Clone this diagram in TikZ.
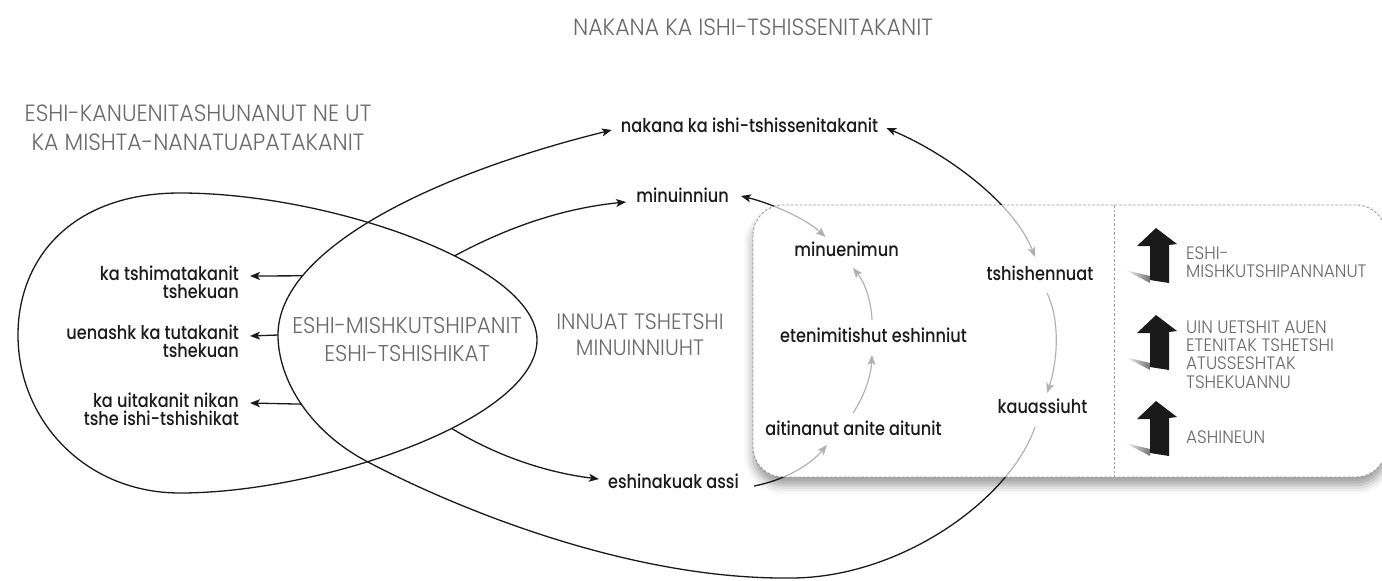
\documentclass[tikz,border=0pt]{standalone}
\usepackage{fontspec}
\setmainfont{Poppins}
\IfFontExistsTF{Poppins Light}{\newfontfamily\thinf{Poppins Light}[FakeStretch=0.94]}{\newfontfamily\thinf{Poppins}[FakeStretch=0.94]}
\IfFontExistsTF{Poppins Medium}{\newfontfamily\labf{Poppins Medium}[FakeStretch=0.85]}{\newfontfamily\labf{Poppins}[FakeStretch=0.88]}
\usetikzlibrary{arrows.meta,shadows.blur}
\definecolor{ink}{HTML}{1A1A1A}
\definecolor{gline}{HTML}{B0B0B0}
\definecolor{gtext}{HTML}{6A6A6A}
\definecolor{gdash}{HTML}{9A9A9A}
\tikzset{
  lbl/.style={font=\labf\fontsize{19}{17.7}\selectfont, text=ink, inner sep=0pt},
  captxt/.style={font=\thinf\fontsize{#1}{#1}\selectfont, text=gtext, inner sep=0pt, align=center},
  conn/.style={draw=ink, line width=1.3pt},
  gconn/.style={draw=gline, line width=1.15pt},
  boxline/.style={draw=gdash, line width=0.9pt, dash pattern=on 2.5pt off 2pt},
  panelarrow/.style={fill=ink},
}
\newcommand\crossconns{%
  \draw[cn,->] ([shift={(-7.5,14)}]kau.base) .. controls (1010,500) and (900,578) .. (lb)
     .. controls (620,580) and (440,500) .. (lm)
     .. controls (310,432) and (278,380) .. coordinate[pos=0.5] (e3) (ll)
     .. controls (278,250) and (430,175) .. coordinate[pos=0.24] (e1) ([shift={(-9,-2)}]nak.base west);
  \draw[cn,<->] ([shift={(8,-4)}]nak.base east) .. controls (950,155) and (1015,205) .. ([shift={(-5,-23)}]tsh.base);
  \draw[cn,<->] ([shift={(12,-6)}]minn.base east) .. controls (770,203) and (805,218) .. ([shift={(-21,-19)}]mue.base);
  \draw[cn,->] ([shift={(15,-2)}]esh.base east) .. controls (785,480) and (810,465) .. ([shift={(-26.5,10)}]ait.base);
}
\begin{document}
\begin{tikzpicture}[x=1pt,y=-1pt,>={Stealth[length=10pt,width=8pt,inset=2.5pt]}]
\useasboundingbox (0,0) rectangle (1382,581);

% dashed panel with shadow
\draw[boxline, fill=white, rounded corners=30pt,
  blur shadow={shadow xshift=0pt, shadow yshift=-8pt, shadow blur radius=9pt, shadow opacity=40}]
  (753,205) rectangle (1386,477);
\draw[boxline] (1114,205) -- (1114,477);

% titles
\node[captxt=23.5] (title) at (753,27) {NAKANA KA ISHI-TSHISSENITAKANIT};
\node[captxt=23.5, font=\thinf\fontsize{23.5}{29}\selectfont] (ltitle) at (198,128) {ESHI-KANUENITASHUNANUT NE UT\\KA MISHTA-NANATUAPATAKANIT};
\node[captxt=22.8, font=\thinf\fontsize{22.8}{28}\selectfont] (core) at (407,340) {ESHI-MISHKUTSHIPANIT\\ESHI-TSHISHIKAT};
\node[captxt=22.3, font=\thinf\fontsize{22.3}{26}\selectfont] (innu) at (640,335) {INNUAT TSHETSHI\\MINUINNIUHT};

% labels
\node[lbl, anchor=base] (nak) at (749.5,132) {nakana ka ishi-tshissenitakanit};
\node[lbl, anchor=base] (minn) at (682.5,202) {minuinniun};
\node[lbl, anchor=base] (esh) at (673.5,488) {eshinakuak assi};
\node[lbl, anchor=base] (mue) at (846.5,256) {minuenimun};
\node[lbl, anchor=base] (ete) at (873.5,342) {etenimitishut eshinniut};
\node[lbl, anchor=base] (ait) at (853.5,435) {aitinanut anite aitunit};
\node[lbl, anchor=base] (tsh) at (1040,280) {tshishennuat};
\node[lbl, anchor=base] (kau) at (1042.5,413) {kauassiuht};
\node[lbl, anchor=north east, align=right] (L1) at (239,266) {ka tshimatakanit\\tshekuan};
\node[lbl, anchor=north east, align=right] (L2) at (239,325) {uenashk ka tutakanit\\tshekuan};
\node[lbl, anchor=north east, align=right] (L3) at (239,393) {ka uitakanit nikan\\tshe ishi-tshishikat};

% panel legend
\foreach \dy in {0,87,173}{
  \begin{scope}[shift={(0,\dy)}]
    \shade[left color=white, right color=black!55] (1125,270) -- (1150,276) -- (1150,283) -- cycle;
    \fill[panelarrow] (1156,228) -- (1177,244) -- (1169,245) -- (1169,283) -- (1150,280) -- (1150,246) -- (1137,246) -- cycle;
  \end{scope}
}
\node[captxt=18, font=\thinf\fontsize{18}{18.3}\selectfont, anchor=west, align=left] (p1) at (1186,262) {ESHI-\\MISHKUTSHIPANNANUT};
\node[captxt=18, font=\thinf\fontsize{18}{18.3}\selectfont, anchor=west, align=left] (p2) at (1186,354.5) {UIN UETSHIT AUEN\\ETENITAK TSHETSHI\\ATUSSESHTAK\\TSHEKUANNU};
\node[captxt=18, font=\thinf\fontsize{18}{18.3}\selectfont, anchor=west, align=left] (p3) at (1186,437) {ASHINEUN};

% loop waypoints
\coordinate (lb) at (791,578);
\coordinate (lm) at (368,462);
\coordinate (ll) at (278,335);

% black parts (outside the panel)
\begin{scope}[cn/.style={conn}]
  \clip (-20,-20) -- (1420,-20) -- (1420,620) -- (-20,620) -- cycle
        [rounded corners=30pt] (753,340) -- (753,477) -- (1386,477) -- (1386,205) -- (753,205) -- cycle;
  \crossconns
\end{scope}
% grey parts (inside the panel)
\begin{scope}[cn/.style={gconn}]
  \clip[rounded corners=30pt] (753,340) -- (753,477) -- (1386,477) -- (1386,205) -- (753,205) -- cycle;
  \crossconns
\end{scope}

% teardrop
\draw[conn] (537,340) .. controls (537,265) and (330,193) .. coordinate[pos=0.4] (t1) (180,193)
   .. controls (70,193) and (18,260) .. (18,335)
   .. controls (18,420) and (85,493) .. (180,493)
   .. controls (320,493) and (537,420) .. coordinate[pos=0.6] (t2) cycle;

\draw[conn,->] (t1) .. controls (510,226) and (565,208) .. ([shift={(-10,0)}]minn.base west);
\draw[conn,->] (t2) .. controls (500,458) and (550,473) .. ([shift={(-9,-9)}]esh.base west);

\draw[conn,->] (e1) -- ([shift={(11,10)}]L1.north east);
\draw[conn,->] (ll) -- ([shift={(11,11)}]L2.north east);
\draw[conn,->] (e3) -- ([shift={(11,10)}]L3.north east);

% grey arrows inside the panel
\draw[gconn,->] ([shift={(-0.5,-22)}]ait.base) .. controls (865,395) and (871,375) .. ([shift={(-1.5,13)}]ete.base);
\draw[gconn,->] ([shift={(-1.5,-22)}]ete.base) .. controls (871,300) and (865,283) .. ([shift={(6.5,12)}]mue.base);
\draw[gconn,->] ([shift={(7,13)}]tsh.base) .. controls (1060,320) and (1058,360) .. ([shift={(4.5,-20)}]kau.base);
\end{tikzpicture}
\end{document}
